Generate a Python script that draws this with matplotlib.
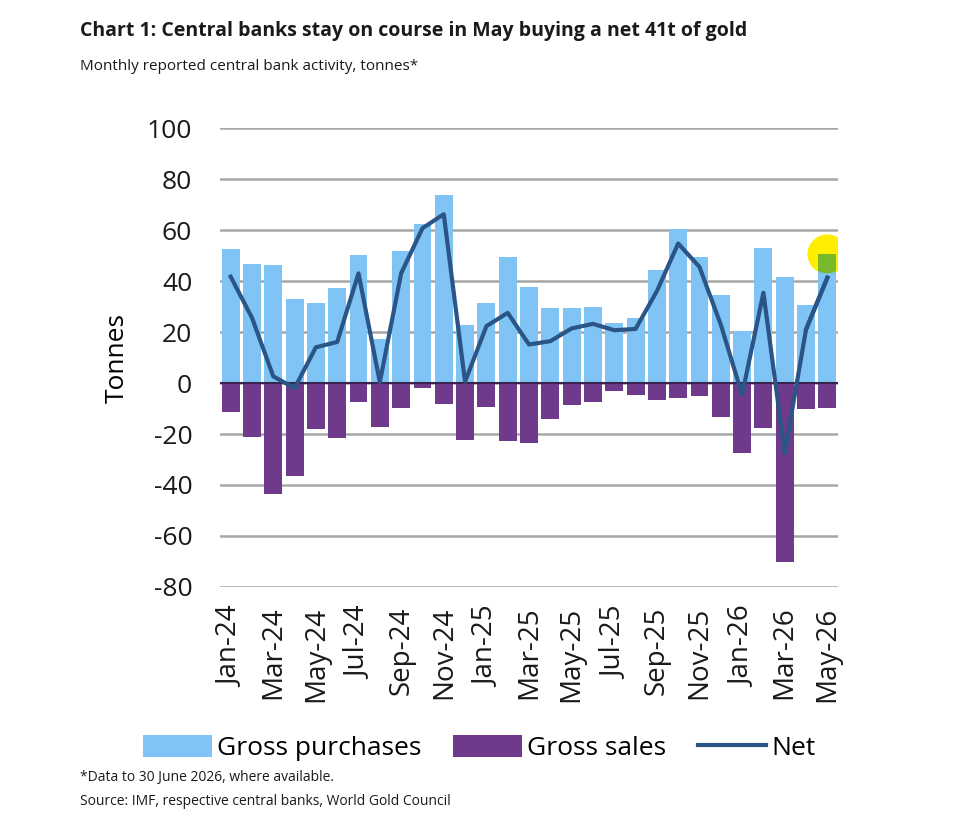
import numpy as np
import matplotlib.pyplot as plt
from matplotlib.patches import Ellipse

plt.rcParams['font.family'] = ['Open Sans', 'DejaVu Sans']
plt.rcParams['axes.unicode_minus'] = False

months = ["Jan-24", "Feb-24", "Mar-24", "Apr-24", "May-24", "Jun-24", "Jul-24", "Aug-24",
          "Sep-24", "Oct-24", "Nov-24", "Dec-24", "Jan-25", "Feb-25", "Mar-25", "Apr-25",
          "May-25", "Jun-25", "Jul-25", "Aug-25", "Sep-25", "Oct-25", "Nov-25", "Dec-25",
          "Jan-26", "Feb-26", "Mar-26", "Apr-26", "May-26"]
purchases = [52.4, 46.5, 46.1, 33.0, 31.5, 37.1, 50.1, 17.3, 51.9, 62.3, 73.7, 22.7, 31.5,
             49.5, 37.7, 29.5, 29.5, 29.9, 23.6, 25.3, 44.2, 60.3, 49.5, 34.5, 20.3, 52.8,
             41.5, 30.5, 50.5]
sales = [-11.4, -21.1, -43.6, -36.3, -18.2, -21.6, -7.5, -17.4, -9.8, -2.0, -8.1, -22.4,
         -9.5, -22.7, -23.5, -14.0, -8.7, -7.3, -3.3, -4.6, -6.6, -5.9, -5.0, -13.5, -27.3,
         -17.7, -70.1, -10.2, -9.8]
net = [41.7, 25.6, 2.6, -2.0, 14.0, 16.1, 43.0, 0.3, 43.0, 60.7, 66.2, 0.5, 22.3, 27.5,
       15.1, 16.4, 21.4, 23.2, 20.7, 21.2, 36.0, 54.7, 45.5, 22.9, -4.6, 35.4, -27.5, 21.0,
       41.3]

c_buy = "#7fc4f4"
c_sell = "#6f3a8c"
c_net = "#2b5587"

fig = plt.figure(figsize=(9.8, 8.4), dpi=100)
ax = fig.add_axes([0.2245, 0.3012, 0.6306, 0.5464])

x = np.arange(len(months))
b1 = ax.bar(x, purchases, width=0.84, color=c_buy, label="Gross purchases", zorder=2)
b2 = ax.bar(x, sales, width=0.84, color=c_sell, label="Gross sales", zorder=2)
ax.axhline(0, color="#3b2350", lw=1.5, zorder=3)
ln, = ax.plot(x, net, color=c_net, lw=3, label="Net", zorder=4)

# highlight on the latest month
hl = Ellipse((x[-1], purchases[-1]), width=1.8, height=15, color="#ffee00", zorder=1.5)
ax.add_patch(hl)
green = ax.bar(x[-1], purchases[-1], width=0.84, color="#79b82a", zorder=2.5)
for b in green:
    clip = Ellipse((x[-1], purchases[-1]), width=1.8, height=15, transform=ax.transData)
    b.set_clip_path(clip)
ax.plot(x[-2:], net[-2:], color=c_net, lw=3, zorder=4)

ax.set_ylim(-80, 100)
ax.set_xlim(-0.5, len(months) - 0.5)
ax.set_yticks(range(-80, 101, 20))
ax.grid(axis="y", color="#a6a6a6", lw=1.8, zorder=0)
ax.set_axisbelow(True)
for s in ax.spines.values():
    s.set_visible(False)
ax.tick_params(length=0, labelsize=19, colors="#1a1a1a")
ax.tick_params(axis="y", pad=20)
ax.tick_params(axis="x", pad=14, labelsize=20)
ax.set_xticks(x[::2])
ax.set_xticklabels(months[::2], rotation=90)
ax.set_ylabel("Tonnes", fontsize=19, labelpad=12)

ax.legend([b1, b2, ln], ["Gross purchases", "Gross sales", "Net"],
          loc="upper center", bbox_to_anchor=(0.42, -0.27), ncol=3, frameon=False,
          fontsize=19, handlelength=2.6, handleheight=0.9, columnspacing=1.2,
          handletextpad=0.2)

fig.text(0.082, 0.975, "Chart 1: Central banks stay on course in May buying a net 41t of gold",
         fontsize=14, fontweight="bold", va="top", color="#1a1a1a")
fig.text(0.082, 0.93, "Monthly reported central bank activity, tonnes*",
         fontsize=11, va="top", color="#1a1a1a")
fig.text(0.082, 0.075, "*Data to 30 June 2026, where available.",
         fontsize=10, va="center", color="#1a1a1a")
fig.text(0.082, 0.046, "Source: IMF, respective central banks, World Gold Council",
         fontsize=10, va="center", color="#1a1a1a")

fig.savefig("out.png", dpi=100, facecolor="white")
